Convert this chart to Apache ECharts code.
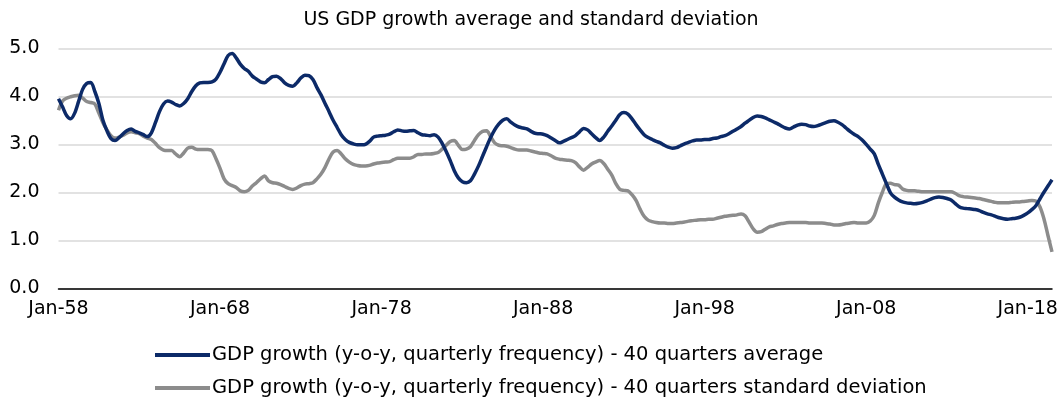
<!DOCTYPE html>
<html>
<head>
<meta charset="utf-8">
<title>US GDP growth average and standard deviation</title>
<script src="https://cdn.jsdelivr.net/npm/echarts@6/dist/echarts.min.js"></script>
<style>
  html, body { margin: 0; padding: 0; background: #ffffff; }
  #chart { width: 1062px; height: 402px; }
</style>
</head>
<body>
<div id="chart"></div>
<script>
// Quarterly observations, Q1 1958 through Q3 2019
const firstYear = 1958;
const quarterMonths = ['Jan', 'Apr', 'Jul', 'Oct'];

// 40-quarter rolling average of y-o-y GDP growth (%)
const avgGrowth = [
  3.95, 3.78, 3.60, 3.53, 3.65, 3.90, 4.15, 4.27, 4.29, 4.10,
  3.85, 3.50, 3.28, 3.12, 3.08, 3.14, 3.22, 3.29, 3.32, 3.27,
  3.24, 3.20, 3.16, 3.24, 3.45, 3.68, 3.84, 3.90, 3.88, 3.83,
  3.80, 3.85, 3.95, 4.10, 4.22, 4.28, 4.29, 4.29, 4.30, 4.36,
  4.50, 4.68, 4.85, 4.89, 4.80, 4.67, 4.58, 4.52, 4.42, 4.36,
  4.30, 4.28, 4.35, 4.41, 4.42, 4.37, 4.28, 4.23, 4.21, 4.28,
  4.38, 4.44, 4.43, 4.35, 4.18, 4.03, 3.85, 3.68, 3.50, 3.35,
  3.20, 3.10, 3.04, 3.01, 2.99, 2.99, 3.00, 3.06, 3.15, 3.17,
  3.18, 3.19, 3.21, 3.26, 3.30, 3.28, 3.27, 3.28, 3.29, 3.24,
  3.20, 3.19, 3.18, 3.20, 3.15, 3.02, 2.85, 2.66, 2.45, 2.30,
  2.22, 2.20, 2.24, 2.38, 2.55, 2.75, 2.95, 3.14, 3.30, 3.42,
  3.50, 3.53, 3.46, 3.40, 3.36, 3.34, 3.32, 3.27, 3.23, 3.22,
  3.21, 3.18, 3.13, 3.08, 3.03, 3.06, 3.10, 3.14, 3.18, 3.26,
  3.33, 3.30, 3.22, 3.14, 3.08, 3.15, 3.27, 3.38, 3.50, 3.62,
  3.66, 3.63, 3.53, 3.41, 3.30, 3.20, 3.14, 3.10, 3.06, 3.03,
  2.98, 2.94, 2.92, 2.93, 2.97, 3.01, 3.04, 3.07, 3.09, 3.09,
  3.10, 3.10, 3.12, 3.13, 3.16, 3.18, 3.22, 3.27, 3.32, 3.37,
  3.44, 3.50, 3.56, 3.59, 3.58, 3.55, 3.51, 3.47, 3.43, 3.38,
  3.34, 3.32, 3.36, 3.40, 3.42, 3.41, 3.38, 3.37, 3.39, 3.42,
  3.45, 3.48, 3.49, 3.46, 3.41, 3.34, 3.27, 3.21, 3.16, 3.09,
  3.00, 2.90, 2.80, 2.58, 2.38, 2.18, 1.99, 1.90, 1.84, 1.80,
  1.78, 1.77, 1.76, 1.77, 1.79, 1.82, 1.86, 1.89, 1.90, 1.89,
  1.87, 1.84, 1.77, 1.70, 1.67, 1.66, 1.65, 1.64, 1.62, 1.58,
  1.55, 1.53, 1.50, 1.47, 1.45, 1.44, 1.45, 1.46, 1.48, 1.52,
  1.57, 1.64, 1.72, 1.86, 2.00, 2.13, 2.26
];

// 40-quarter rolling standard deviation of y-o-y GDP growth
const stdGrowth = [
  3.71, 3.90, 3.96, 3.99, 4.01, 4.02, 3.96, 3.89, 3.87, 3.84,
  3.65, 3.45, 3.30, 3.18, 3.13, 3.15, 3.19, 3.24, 3.26, 3.24,
  3.22, 3.17, 3.13, 3.10, 3.02, 2.93, 2.88, 2.87, 2.87, 2.80,
  2.74, 2.82, 2.92, 2.94, 2.90, 2.89, 2.89, 2.89, 2.87, 2.70,
  2.50, 2.28, 2.18, 2.14, 2.10, 2.03, 2.01, 2.04, 2.13, 2.20,
  2.28, 2.34, 2.24, 2.20, 2.19, 2.16, 2.12, 2.08, 2.06, 2.09,
  2.14, 2.17, 2.18, 2.20, 2.28, 2.38, 2.52, 2.70, 2.84, 2.87,
  2.80, 2.70, 2.63, 2.58, 2.56, 2.55, 2.55, 2.56, 2.59, 2.61,
  2.62, 2.63, 2.64, 2.68, 2.71, 2.71, 2.71, 2.71, 2.74, 2.79,
  2.79, 2.80, 2.80, 2.81, 2.83, 2.90, 2.98, 3.06, 3.08, 2.98,
  2.89, 2.90, 2.95, 3.08, 3.20, 3.27, 3.28, 3.16, 3.03, 2.98,
  2.97, 2.96, 2.93, 2.90, 2.88, 2.88, 2.88, 2.86, 2.84, 2.82,
  2.81, 2.80, 2.76, 2.71, 2.69, 2.68, 2.67, 2.66, 2.62, 2.53,
  2.46, 2.52, 2.59, 2.63, 2.66, 2.60, 2.48, 2.36, 2.18, 2.06,
  2.04, 2.03, 1.95, 1.83, 1.65, 1.50, 1.42, 1.39, 1.37, 1.36,
  1.36, 1.35, 1.35, 1.36, 1.37, 1.38, 1.40, 1.41, 1.42, 1.43,
  1.43, 1.44, 1.44, 1.46, 1.48, 1.50, 1.51, 1.52, 1.53, 1.55,
  1.51, 1.38, 1.24, 1.17, 1.18, 1.23, 1.28, 1.30, 1.33, 1.35,
  1.36, 1.37, 1.37, 1.37, 1.37, 1.37, 1.36, 1.36, 1.36, 1.36,
  1.35, 1.34, 1.32, 1.32, 1.33, 1.35, 1.36, 1.37, 1.36, 1.36,
  1.36, 1.40, 1.52, 1.78, 2.00, 2.18, 2.19, 2.16, 2.15, 2.07,
  2.04, 2.03, 2.03, 2.02, 2.01, 2.01, 2.01, 2.01, 2.01, 2.01,
  2.01, 2.01, 1.98, 1.93, 1.91, 1.90, 1.89, 1.88, 1.87, 1.85,
  1.83, 1.81, 1.79, 1.78, 1.78, 1.78, 1.79, 1.80, 1.80, 1.81,
  1.82, 1.83, 1.82, 1.70, 1.45, 1.10, 0.76
];

// Category labels such as "Jan-58", "Apr-58", ...
const categories = avgGrowth.map(function (_, i) {
  const year = firstYear + Math.floor(i / 4);
  return quarterMonths[i % 4] + '-' + String(year % 100).padStart(2, '0');
});

// Labels shown on the time axis, one per decade
const tickLabels = ['Jan-58', 'Jan-68', 'Jan-78', 'Jan-88', 'Jan-98', 'Jan-08', 'Jan-18'];

const seriesNames = [
  'GDP growth (y-o-y, quarterly frequency) - 40 quarters average',
  'GDP growth (y-o-y, quarterly frequency) - 40 quarters standard deviation'
];

const FONT = 'DejaVu Sans';
const NAVY = '#0c2a68';
const GREY = '#8c8c8c';

const chart = echarts.init(document.getElementById('chart'), null, { renderer: 'canvas' });

chart.setOption({
  animation: false,
  backgroundColor: '#ffffff',
  title: {
    text: 'US GDP growth average and standard deviation',
    left: 'center',
    top: 6,
    textStyle: { fontFamily: FONT, fontSize: 19, fontWeight: 'normal', color: '#000000' }
  },
  grid: { left: 58.5, right: 10, top: 48.3, bottom: 113.7, containLabel: false },
  legend: {
    orient: 'vertical',
    left: 155,
    top: 344,
    padding: 0,
    itemWidth: 55,
    itemHeight: 4,
    itemGap: 11,
    icon: 'rect',
    textStyle: { fontFamily: FONT, fontSize: 19.5, color: '#000000', lineHeight: 22, padding: [0, 0, 0, -3] },
    data: seriesNames
  },
  xAxis: {
    type: 'category',
    data: categories,
    boundaryGap: false,
    axisLine: { lineStyle: { color: '#000000', width: 1.5 } },
    axisTick: { show: false },
    axisLabel: {
      interval: function (index, value) { return tickLabels.indexOf(value) !== -1; },
      fontFamily: FONT,
      fontSize: 19,
      color: '#000000',
      margin: 11
    },
    splitLine: { show: false }
  },
  yAxis: {
    type: 'value',
    min: 0,
    max: 5,
    interval: 1,
    axisLine: { show: false },
    axisTick: { show: false },
    axisLabel: {
      formatter: function (v) { return v.toFixed(1); },
      fontFamily: FONT,
      fontSize: 19,
      color: '#000000',
      margin: 19
    },
    splitLine: { lineStyle: { color: '#d9d9d9', width: 1.5 } }
  },
  series: [
    {
      name: seriesNames[0],
      type: 'line',
      data: avgGrowth,
      showSymbol: false,
      symbol: 'none',
      smooth: 0.3,
      lineStyle: { color: NAVY, width: 3.5 },
      itemStyle: { color: NAVY },
      z: 3
    },
    {
      name: seriesNames[1],
      type: 'line',
      data: stdGrowth,
      showSymbol: false,
      symbol: 'none',
      smooth: 0.3,
      lineStyle: { color: GREY, width: 3.5 },
      itemStyle: { color: GREY },
      z: 2
    }
  ]
});
</script>
</body>
</html>
